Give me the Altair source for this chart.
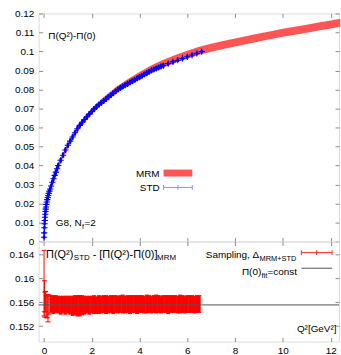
import altair as alt
import pandas as pd

# ---- MRM band: Pi(Q^2)-Pi(0) with its error ----
mrm_q2 = [0.0, 0.1, 0.3, 0.6, 1.0, 1.5, 2.0, 2.5, 3.0, 3.5, 4.0, 4.5, 5.0, 5.5,
          6.0, 6.5, 7.0, 7.5, 8.0, 8.5, 9.0, 9.5, 10.0, 10.5, 11.0, 11.5, 12.0, 12.4]
mrm_val = [0.0, 0.0195, 0.0293, 0.0401, 0.0507, 0.0613, 0.0686, 0.0743, 0.0794,
           0.0836, 0.0873, 0.0907, 0.0936, 0.0961, 0.0983, 0.1004, 0.1020, 0.1034,
           0.1047, 0.1060, 0.1073, 0.1086, 0.1098, 0.1109, 0.1120, 0.1131, 0.1142, 0.1151]
mrm_err = [0.0005, 0.0008, 0.0010, 0.0012, 0.0013, 0.0014, 0.0015, 0.0016, 0.0017,
           0.0018, 0.0019, 0.0020, 0.0021, 0.0021, 0.0021, 0.0021, 0.0021, 0.0021,
           0.0021, 0.0021, 0.0021, 0.0021, 0.0021, 0.0021, 0.0021, 0.0021, 0.0021, 0.0021]

# ---- STD lattice points ----
std_q2 = [0.005, 0.012, 0.02, 0.028, 0.036, 0.045, 0.055, 0.065, 0.075, 0.085,
          0.10, 0.12, 0.14, 0.16, 0.18, 0.20, 0.23, 0.26, 0.30, 0.35, 0.40, 0.45,
          0.50, 0.55, 0.60, 0.70, 0.80, 0.90, 1.0, 1.1, 1.2, 1.3, 1.4, 1.5, 1.6,
          1.7, 1.8, 1.9, 2.0, 2.1, 2.2, 2.3, 2.4, 2.5, 2.6, 2.7, 2.8, 2.9, 3.0,
          3.1, 3.2, 3.3, 3.4, 3.5, 3.6, 3.7, 3.8, 3.9, 4.0, 4.1, 4.2, 4.3, 4.4,
          4.5, 4.6, 4.7, 4.8, 4.9, 5.0, 5.2, 5.4, 5.6, 5.8, 6.0, 6.2, 6.4, 6.6]
std_val = [0.0022, 0.0045, 0.0072, 0.0093, 0.0110, 0.0127, 0.0143, 0.0158, 0.0170,
           0.0181, 0.0195, 0.0208, 0.0220, 0.0231, 0.0242, 0.0253, 0.0265, 0.0276,
           0.0292, 0.0312, 0.0330, 0.0348, 0.0365, 0.0383, 0.0400, 0.0427, 0.0454,
           0.0481, 0.0506, 0.0528, 0.0550, 0.0572, 0.0593, 0.0611, 0.0627, 0.0642,
           0.0656, 0.0670, 0.0684, 0.0697, 0.0709, 0.0720, 0.0730, 0.0740, 0.0750,
           0.0760, 0.0770, 0.0780, 0.0790, 0.0800, 0.0808, 0.0816, 0.0823, 0.0830,
           0.0837, 0.0844, 0.0851, 0.0858, 0.0865, 0.0872, 0.0879, 0.0886, 0.0893,
           0.0900, 0.0906, 0.0911, 0.0916, 0.0921, 0.0926, 0.0936, 0.0945, 0.0954,
           0.0963, 0.0972, 0.0981, 0.0990, 0.0999]
std_err = [0.0008, 0.0008, 0.0008, 0.0008, 0.0008, 0.0008, 0.0008, 0.0008, 0.0008,
           0.0008, 0.0009, 0.0009, 0.0009, 0.0009, 0.0009, 0.0010, 0.0010, 0.0010,
           0.0010, 0.0011, 0.0011, 0.0011, 0.0012, 0.0012, 0.0012, 0.0012, 0.0013,
           0.0013, 0.0013, 0.0013, 0.0013, 0.0013, 0.0013, 0.0013, 0.0013, 0.0013,
           0.0013, 0.0013, 0.0013, 0.0013, 0.0013, 0.0013, 0.0013, 0.0013, 0.0013,
           0.0013, 0.0013, 0.0013, 0.0013, 0.0013, 0.0013, 0.0013, 0.0013, 0.0013,
           0.0013, 0.0013, 0.0013, 0.0013, 0.0013, 0.0013, 0.0013, 0.0013, 0.0013,
           0.0012, 0.0012, 0.0012, 0.0012, 0.0012, 0.0011, 0.0010, 0.0010, 0.0009,
           0.0009, 0.0009, 0.0009, 0.0009, 0.0009]

# ---- sampling of Pi(Q^2)_STD - [Pi(Q^2)-Pi(0)]_MRM ----
# first few points with large errors
samp0_q2 = [0.005, 0.02, 0.04, 0.07, 0.10, 0.14, 0.17, 0.21]
samp0_val = [0.1592, 0.1570, 0.1556, 0.1561, 0.1553, 0.1552, 0.1550, 0.1556]
samp0_err = [0.0055, 0.0026, 0.0021, 0.0017, 0.0019, 0.0018, 0.0023, 0.0016]
# dense remainder
samp_q2 = [0.3, 0.4, 0.5, 0.6, 0.7, 0.8, 0.9, 1.0, 1.1, 1.2, 1.3, 1.4, 1.5, 1.6,
           1.7, 1.8, 1.9, 2.0, 2.1, 2.2, 2.3, 2.4, 2.5, 2.6, 2.7, 2.8, 2.9, 3.0,
           3.1, 3.2, 3.3, 3.4, 3.5, 3.6, 3.7, 3.8, 3.9, 4.0, 4.1, 4.2, 4.3, 4.4,
           4.5, 4.6, 4.7, 4.8, 4.9, 5.0, 5.1, 5.2, 5.3, 5.4, 5.5, 5.6, 5.7, 5.8,
           5.9, 6.0, 6.1, 6.2, 6.3, 6.4, 6.5]
samp_val = [0.1557, 0.1556, 0.1557, 0.1556, 0.1555, 0.1556, 0.1555, 0.1556, 0.1555,
            0.1554, 0.1555, 0.1554, 0.1554, 0.1555, 0.1555, 0.1556, 0.1555, 0.1556,
            0.1556, 0.1555, 0.1556, 0.1556, 0.1557, 0.1556, 0.1556, 0.1557, 0.1556,
            0.1557, 0.1556, 0.1557, 0.1557, 0.1556, 0.1557, 0.1556, 0.1557, 0.1557,
            0.1556, 0.1557, 0.1557, 0.1556, 0.1557, 0.1557, 0.1556, 0.1557, 0.1557,
            0.1557, 0.1556, 0.1557, 0.1557, 0.1556, 0.1557, 0.1557, 0.1557, 0.1556,
            0.1557, 0.1557, 0.1556, 0.1557, 0.1557, 0.1557, 0.1556, 0.1557, 0.1557]
samp_err = [0.0014, 0.0015, 0.0014, 0.0014, 0.0015, 0.0014, 0.0015, 0.0014, 0.0015,
            0.0016, 0.0016, 0.0017, 0.0017, 0.0016, 0.0015, 0.0014, 0.0015, 0.0014,
            0.0015, 0.0014, 0.0015, 0.0014, 0.0014, 0.0015, 0.0014, 0.0014, 0.0015,
            0.0014, 0.0014, 0.0014, 0.0015, 0.0014, 0.0014, 0.0015, 0.0014, 0.0014,
            0.0015, 0.0014, 0.0014, 0.0014, 0.0015, 0.0014, 0.0014, 0.0014, 0.0015,
            0.0014, 0.0014, 0.0014, 0.0014, 0.0015, 0.0014, 0.0014, 0.0014, 0.0014,
            0.0015, 0.0014, 0.0014, 0.0014, 0.0014, 0.0014, 0.0014, 0.0014, 0.0014]
fit_const = [0.15555]

# ---- axis ticks ----
top_y_ticks = [0.0, 0.01, 0.02, 0.03, 0.04, 0.05, 0.06, 0.07, 0.08, 0.09, 0.1, 0.11, 0.12]
bot_y_ticks = [0.152, 0.156, 0.16, 0.164]
x_ticks = [0, 2, 4, 6, 8, 10, 12]

FONT = "Liberation Sans"
TICK = "#8c8c8c"
RED_BAND = "#ff5555"
W = 303
H_TOP = 230
H_BOT = 101


def frame(q2, val, err):
    return pd.DataFrame({
        "q2": q2,
        "val": val,
        "lo": [v - e for v, e in zip(val, err)],
        "hi": [v + e for v, e in zip(val, err)],
    })


mrm = frame(mrm_q2, mrm_val, mrm_err)
std = frame(std_q2, std_val, std_err)
samp0 = frame(samp0_q2, samp0_val, samp0_err)
samp = frame(samp_q2, samp_val, samp_err)
fit = pd.DataFrame({"c": fit_const})


def axis(values, orient, labels):
    kw = dict(values=values, orient=orient, title=None, domain=False, grid=False,
              tickSize=4, offset=-4, tickColor=TICK, tickWidth=1, labels=labels)
    if labels:
        kw.update(labelFont=FONT, labelFontSize=10, labelColor="black", format="~g")
        if orient == "left":
            kw.update(labelPadding=5, minExtent=42, maxExtent=42)
        else:
            kw.update(labelPadding=4)
    else:
        kw.update(minExtent=0, maxExtent=0)
    return alt.Axis(**kw)


def label(txt, x, y, size=10, align="left"):
    return alt.Chart(alt.Data(values=[{"t": txt}])).mark_text(
        align=align, baseline="alphabetic", font=FONT, fontSize=size, color="black"
    ).encode(x=alt.value(x), y=alt.value(y), text="t:N")


def hline(x1, x2, y, color):
    return alt.Chart(alt.Data(values=[{}])).mark_rule(color=color, strokeWidth=1).encode(
        x=alt.value(x1), x2=alt.value(x2), y=alt.value(y))


def vline(x, y1, y2, color):
    return alt.Chart(alt.Data(values=[{}])).mark_rule(color=color, strokeWidth=1).encode(
        x=alt.value(x), y=alt.value(y1), y2=alt.value(y2))


xs = alt.Scale(domain=[-0.22, 12.35], nice=False, zero=False)
ys_top = alt.Scale(domain=[0, 0.12], nice=False, zero=False)
ys_bot = alt.Scale(domain=[0.1494, 0.1662], nice=False, zero=False)

CROSS = "M-1,0L1,0M0,-1L0,1"
HBAR = "M-1,0L1,0"

# ---------------- upper panel ----------------
band = alt.Chart(mrm).mark_area(color=RED_BAND, opacity=1).encode(
    x=alt.X("q2:Q", scale=xs, axis=axis(x_ticks, "bottom", False)),
    y=alt.Y("lo:Q", scale=ys_top, axis=axis(top_y_ticks, "left", True)),
    y2="hi:Q",
)
top_mirror = alt.Chart(std).mark_point(opacity=0).encode(
    x=alt.X("q2:Q", scale=xs, axis=axis(x_ticks, "top", False)),
    y=alt.Y("val:Q", scale=ys_top, axis=axis(top_y_ticks, "right", False)),
)
std_bars = alt.Chart(std).mark_rule(color="#0000ff", strokeWidth=2.4).encode(
    x=alt.X("q2:Q", scale=xs, axis=None),
    y=alt.Y("lo:Q", scale=ys_top, axis=None),
    y2="hi:Q",
)
std_pts = alt.Chart(std).mark_point(
    shape=CROSS, size=40, filled=False, color="#0000ff", strokeWidth=1.1, opacity=1
).encode(
    x=alt.X("q2:Q", scale=xs, axis=None),
    y=alt.Y("val:Q", scale=ys_top, axis=None),
)
mrm_key = alt.Chart(alt.Data(values=[{}])).mark_rect(color=RED_BAND).encode(
    x=alt.value(126), x2=alt.value(155), y=alt.value(157.5), y2=alt.value(164.5))

top = alt.layer(
    band, top_mirror, std_bars, std_pts,
    label("Π(Q²)-Π(0)", 9.7, 25.5),
    label("G8, N", 17.3, 214.5), label("f", 43.8, 217, 7), label("=2", 46.2, 214.5),
    label("MRM", 122, 165, align="right"), mrm_key,
    label("STD", 122, 179, align="right"),
    hline(126, 155, 175.5, "#8f8fff"),
    vline(126, 173, 178, "#8f8fff"), vline(140.5, 173, 178, "#8f8fff"),
    vline(155, 173, 178, "#8f8fff"),
).resolve_axis(x="independent", y="independent").properties(width=W, height=H_TOP)

# ---------------- lower panel ----------------
bulk_bars = alt.Chart(samp).mark_rule(color="#ff0000", strokeWidth=3).encode(
    x=alt.X("q2:Q", scale=xs, axis=axis(x_ticks, "bottom", True)),
    y=alt.Y("lo:Q", scale=ys_bot, axis=axis(bot_y_ticks, "left", True)),
    y2="hi:Q",
)
bot_mirror = alt.Chart(samp).mark_point(opacity=0).encode(
    x=alt.X("q2:Q", scale=xs, axis=axis(x_ticks, "top", False)),
    y=alt.Y("val:Q", scale=ys_bot, axis=axis(bot_y_ticks, "right", False)),
)


def caps(df, field, size):
    return alt.Chart(df).mark_point(
        shape=HBAR, size=size, filled=False, color="#ff0000", strokeWidth=1, opacity=1
    ).encode(
        x=alt.X("q2:Q", scale=xs, axis=None),
        y=alt.Y(f"{field}:Q", scale=ys_bot, axis=None),
    )


early_bars = alt.Chart(samp0).mark_rule(color="#ff0000", strokeWidth=1).encode(
    x=alt.X("q2:Q", scale=xs, axis=None),
    y=alt.Y("lo:Q", scale=ys_bot, axis=None),
    y2="hi:Q",
)
fit_line = alt.Chart(fit).mark_rule(color="#555555", strokeWidth=1).encode(
    y=alt.Y("c:Q", scale=ys_bot, axis=None))

bottom = alt.layer(
    bulk_bars, bot_mirror,
    caps(samp, "lo", 16), caps(samp, "hi", 16),
    early_bars, caps(samp0, "lo", 25), caps(samp0, "hi", 25),
    fit_line,
    label("Π(Q²)", 7.5, 16.5, 11), label("STD", 35.5, 19, 8),
    label("- [Π(Q²)-Π(0)]", 54.5, 16.5, 11), label("MRM", 119.5, 19, 8),
    label("Sampling, Δ", 222.5, 17, align="right"),
    label("MRM+STD", 260, 19.5, 7.5, align="right"),
    hline(265, 296, 11.3, "#ff2020"),
    vline(265, 8.8, 13.8, "#ff2020"), vline(280.5, 8.8, 13.8, "#ff2020"),
    vline(296, 8.8, 13.8, "#ff2020"),
    label("Π(0)", 224.5, 34, align="right"), label("fit", 224.8, 36.5, 7.5),
    label("=const", 230.8, 34),
    hline(265, 296, 27, "#555555"),
    label("Q²[GeV²]", 300.5, 91, align="right"),
).resolve_axis(x="independent", y="independent").properties(width=W, height=H_BOT)

chart = alt.vconcat(top, bottom, spacing=0, bounds="flush").properties(
    padding={"left": 0, "top": 6, "right": 0, "bottom": 0}
).configure_view(stroke="#a8a8a8", strokeWidth=1).configure(background="white")

chart.save("out.html", embed_options={"renderer": "svg", "actions": False})
